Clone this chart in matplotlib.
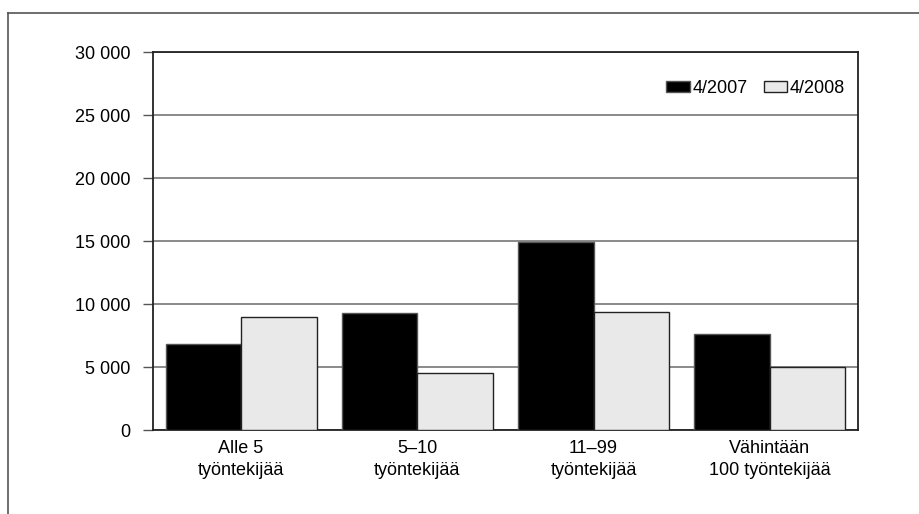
import numpy as np
import matplotlib.pyplot as plt
from matplotlib.lines import Line2D

plt.rcParams['font.family'] = ['Liberation Sans', 'DejaVu Sans']

# Données
categories = ['Alle 5\ntyöntekijää', '5–10\ntyöntekijää', '11–99\ntyöntekijää',
              'Vähintään\n100 työntekijää']
values_2007 = [6800, 9250, 14900, 7600]
values_2008 = [9000, 4500, 9350, 5000]
series_labels = ['4/2007', '4/2008']
yticks = [0, 5000, 10000, 15000, 20000, 25000, 30000]
ytick_labels = ['0', '5 000', '10 000', '15 000', '20 000', '25 000', '30 000']

fig = plt.figure(figsize=(9.2, 5.14), dpi=100)
ax = fig.add_axes([0.1663, 0.1634, 0.7663, 0.7354])

x = np.arange(len(categories))
w = 0.428
ax.bar(x - w / 2, values_2007, w, color='black', edgecolor='#555555',
       linewidth=1, label=series_labels[0], zorder=3)
ax.bar(x + w / 2, values_2008, w, color='#e9e9e9', edgecolor='#222222',
       linewidth=1, label=series_labels[1], zorder=3)

ax.set_xlim(-0.5, len(categories) - 0.5)
ax.set_ylim(0, 30000)
ax.set_yticks(yticks)
ax.set_yticklabels(ytick_labels, fontsize=13)
ax.set_xticks(x)
ax.set_xticklabels(categories, fontsize=13, linespacing=1.4)
ax.tick_params(axis='x', length=0, pad=7)
ax.tick_params(axis='y', length=7, width=1, color='#555555', pad=9)
ax.yaxis.grid(True, color='#777777', linewidth=1.2, zorder=0)
ax.set_axisbelow(True)
for s in ax.spines.values():
    s.set_color('#222222')
    s.set_linewidth(1.3)

leg = ax.legend(loc='upper right', bbox_to_anchor=(1.0, 0.96), ncol=2,
                frameon=False, fontsize=13, handlelength=1.3, handleheight=0.6,
                handletextpad=0.15, columnspacing=0.9, borderaxespad=0.3)

# Cadre de la figure (haut et gauche)
fig.add_artist(Line2D([8 / 920, 1.0], [1 - 13 / 514, 1 - 13 / 514],
                      color='#555555', linewidth=1.2))
fig.add_artist(Line2D([8 / 920, 8 / 920], [0, 1 - 13 / 514],
                      color='#555555', linewidth=1.2))

fig.savefig('out.png', dpi=100)
